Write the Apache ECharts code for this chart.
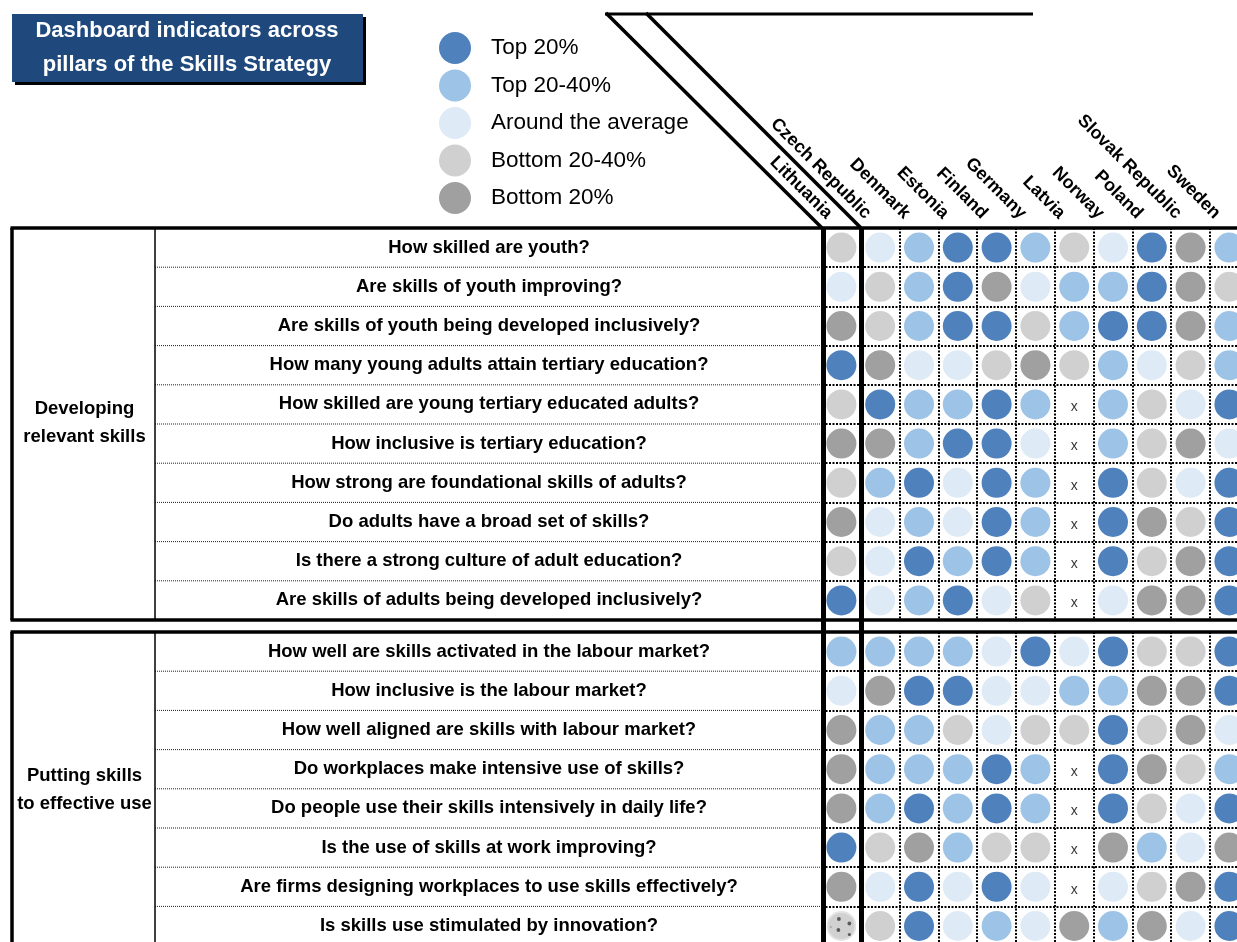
<!DOCTYPE html>
<html><head><meta charset="utf-8">
<script src="https://cdn.jsdelivr.net/npm/echarts@6/dist/echarts.min.js"></script>
<style>html,body{margin:0;padding:0;background:#fff}#chart{width:1237px;height:942px}</style>
</head><body><div id="chart"></div>
<script>
// ---------------- data ----------------
const countries = ['Lithuania','Czech Republic','Denmark','Estonia','Finland','Germany','Latvia','Norway','Poland','Slovak Republic','Sweden'];
const pillarLabels = ['Developing\nrelevant skills', 'Putting skills\nto effective use'];
const questionsDev = [
  'How skilled are youth?',
  'Are skills of youth improving?',
  'Are skills of youth being developed inclusively?',
  'How many young adults attain tertiary education?',
  'How skilled are young tertiary educated adults?',
  'How inclusive is tertiary education?',
  'How strong are foundational skills of adults?',
  'Do adults have a broad set of skills?',
  'Is there a strong culture of adult education?',
  'Are skills of adults being developed inclusively?'
];
const questionsUse = [
  'How well are skills activated in the labour market?',
  'How inclusive is the labour market?',
  'How well aligned are skills with labour market?',
  'Do workplaces make intensive use of skills?',
  'Do people use their skills intensively in daily life?',
  'Is the use of skills at work improving?',
  'Are firms designing workplaces to use skills effectively?',
  'Is skills use stimulated by innovation?'
];
// 5 Top 20%, 4 Top 20-40%, 3 Around the average, 2 Bottom 20-40%, 1 Bottom 20%, 0 not available (x), 9 hatched
const scoresDev = [
  [2,3,4,5,5,4,2,3,5,1,4],
  [3,2,4,5,1,3,4,4,5,1,2],
  [1,2,4,5,5,2,4,5,5,1,4],
  [5,1,3,3,2,1,2,4,3,2,4],
  [2,5,4,4,5,4,0,4,2,3,5],
  [1,1,4,5,5,3,0,4,2,1,3],
  [2,4,5,3,5,4,0,5,2,3,5],
  [1,3,4,3,5,4,0,5,1,2,5],
  [2,3,5,4,5,4,0,5,2,1,5],
  [5,3,4,5,3,2,0,3,1,1,5]
];
const scoresUse = [
  [4,4,4,4,3,5,3,5,2,2,5],
  [3,1,5,5,3,3,4,4,1,1,5],
  [1,4,4,2,3,2,2,5,2,1,3],
  [1,4,4,4,5,4,0,5,1,2,4],
  [1,4,5,4,5,4,0,5,2,3,5],
  [5,2,1,4,2,2,0,1,4,3,1],
  [1,3,5,3,5,3,0,3,2,1,5],
  [9,2,5,3,4,3,1,4,1,3,5]
];
const levelNames = ['Top 20%','Top 20-40%','Around the average','Bottom 20-40%','Bottom 20%'];
const levelCodes = [5,4,3,2,1];
const levelColors = ['#4F81BD','#9DC3E6','#DEEAF6','#D0D0D0','#A0A0A0'];
const titleLines = ['Dashboard indicators across','pillars of the Skills Strategy'];

// ---------------- layout ----------------
const FONT = "'Liberation Sans', Arial, sans-serif";
const gridLeft = 822, colW = 38.8, rowH = 39.2;
const sections = [
  { top: 228, questions: questionsDev, scores: scoresDev },
  { top: 632, questions: questionsUse, scores: scoresUse }
];
const tableLeft = 12, labelColRight = 155, rightEdge = 1237, bottomEdge = 942;

const hatchSvg = '<svg xmlns="http://www.w3.org/2000/svg" width="30" height="30">' +
  '<circle cx="15" cy="15" r="14" fill="#C6C6C6" stroke="#DCDCDC" stroke-width="2"/>' +
  '<circle cx="12.5" cy="8" r="1.9" fill="#333"/><circle cx="23" cy="12.5" r="1.9" fill="#333"/>' +
  '<circle cx="12" cy="19" r="1.9" fill="#333"/><circle cx="23" cy="23.5" r="1.6" fill="#333"/>' +
  '<circle cx="4.5" cy="16" r="0.8" fill="#666"/></svg>';
const hatchSymbol = 'image://data:image/svg+xml;charset=utf-8,' + encodeURIComponent(hatchSvg);

function cells(sec, code) {
  const out = [];
  sec.scores.forEach((row, r) => row.forEach((v, c) => { if (v === code) out.push([countries[c], sec.questions[r]]); }));
  return out;
}

const grids = [], xAxes = [], yAxes = [], series = [];
sections.forEach((sec, g) => {
  grids.push({ left: gridLeft, top: sec.top, width: colW * countries.length, height: rowH * sec.questions.length, outerBoundsMode: 'none', containLabel: false });
  xAxes.push({
    type: 'category', gridIndex: g, data: countries, position: 'top',
    axisLine: { show: false }, axisTick: { show: false },
    axisLabel: g === 0 ? { show: true, interval: 0, rotate: 45, margin: 0, padding: [0, 17, 0, 17],
      color: '#000', fontWeight: 'bold', fontSize: 18, fontFamily: FONT } : { show: false },
    splitLine: { show: true, interval: 0, lineStyle: { color: '#000', width: 2, type: [2, 1.5] } }
  });
  yAxes.push({
    type: 'category', gridIndex: g, data: sec.questions, inverse: true,
    axisLine: { show: false }, axisTick: { show: false },
    axisLabel: { interval: 0, margin: 333, align: 'center', color: '#000', fontWeight: 'bold', fontSize: 18.5, fontFamily: FONT },
    splitLine: { show: true, interval: 0, lineStyle: { color: '#000', width: 2, type: [2, 1.5] } }
  });
  levelCodes.forEach((code, i) => {
    series.push({
      type: 'scatter', name: levelNames[i], xAxisIndex: g, yAxisIndex: g,
      symbol: 'circle', symbolSize: 30, data: cells(sec, code),
      itemStyle: { color: levelColors[i], opacity: 1 }, emphasis: { disabled: true }, silent: true
    });
  });
  series.push({
    type: 'scatter', name: 'na', xAxisIndex: g, yAxisIndex: g, symbolSize: 1,
    data: cells(sec, 0), itemStyle: { color: 'rgba(0,0,0,0)' },
    label: { show: true, position: 'inside', formatter: 'x', color: '#000', fontSize: 14, fontFamily: FONT, offset: [0, 3] },
    silent: true
  });
  series.push({
    type: 'scatter', name: 'hatched', xAxisIndex: g, yAxisIndex: g, symbol: hatchSymbol, symbolSize: 30,
    data: cells(sec, 9), itemStyle: { color: '#C6C6C6' }, silent: true
  });
});

// ---------------- decorations ----------------
const gfx = [];
function line(x1, y1, x2, y2, w, color, dash) {
  gfx.push({ type: 'line', z: 50, shape: { x1, y1, x2, y2 }, style: { stroke: color || '#000', lineWidth: w, lineDash: dash || null } });
}
// title box
gfx.push({ type: 'rect', z: 40, shape: { x: 15, y: 17, width: 351, height: 68 }, style: { fill: '#000' } });
gfx.push({ type: 'rect', z: 41, shape: { x: 12, y: 14, width: 351, height: 68 }, style: { fill: '#1F497D' } });
titleLines.forEach((t, i) => gfx.push({ type: 'text', z: 42, x: 187, y: 31 + i * 34,
  style: { text: t, fill: '#fff', font: 'bold 22px ' + FONT, textAlign: 'center', textVerticalAlign: 'middle' } }));
// header lines
line(605, 14, 1033, 14, 3);
line(606, 13, 822, 228, 3.5);
line(646, 13, 861, 228, 3.5);
// table structure
sections.forEach((sec, g) => {
  const top = sec.top, n = sec.questions.length, bottom = Math.min(top + n * rowH, bottomEdge + 5);
  for (let i = 1; i < n; i++) line(labelColRight, top + i * rowH, gridLeft, top + i * rowH, 1, '#222', [1, 1]);
  line(tableLeft - 1.5, top, rightEdge, top, 3.5);
  if (g === 0) line(tableLeft - 1.5, bottom, rightEdge, bottom, 3.5);
  line(tableLeft, top, tableLeft, bottom, 3.5);
  line(labelColRight, top, labelColRight, bottom, 1.5);
  const midY = g === 0 ? 423 : 790;
  gfx.push({ type: 'text', z: 42, x: (tableLeft + labelColRight) / 2 + 1, y: midY,
    style: { text: pillarLabels[g], fill: '#000', font: 'bold 18.5px ' + FONT, textAlign: 'center', textVerticalAlign: 'middle', lineHeight: 28 } });
});
line(823.5, 228, 823.5, bottomEdge, 5);
line(861.5, 228, 861.5, bottomEdge, 5);

const chart = echarts.init(document.getElementById('chart'), null, { renderer: 'canvas' });
chart.setOption({
  animation: false,
  backgroundColor: '#fff',
  grid: grids, xAxis: xAxes, yAxis: yAxes, series,
  legend: {
    data: levelNames, orient: 'vertical', left: 439, top: 32, padding: 0,
    itemWidth: 32, itemHeight: 32, itemGap: 5.5, icon: 'circle', selectedMode: false,
    textStyle: { color: '#000', fontSize: 22.5, fontFamily: FONT, padding: [0, 0, 0, 15] }
  },
  graphic: gfx
});
</script></body></html>
